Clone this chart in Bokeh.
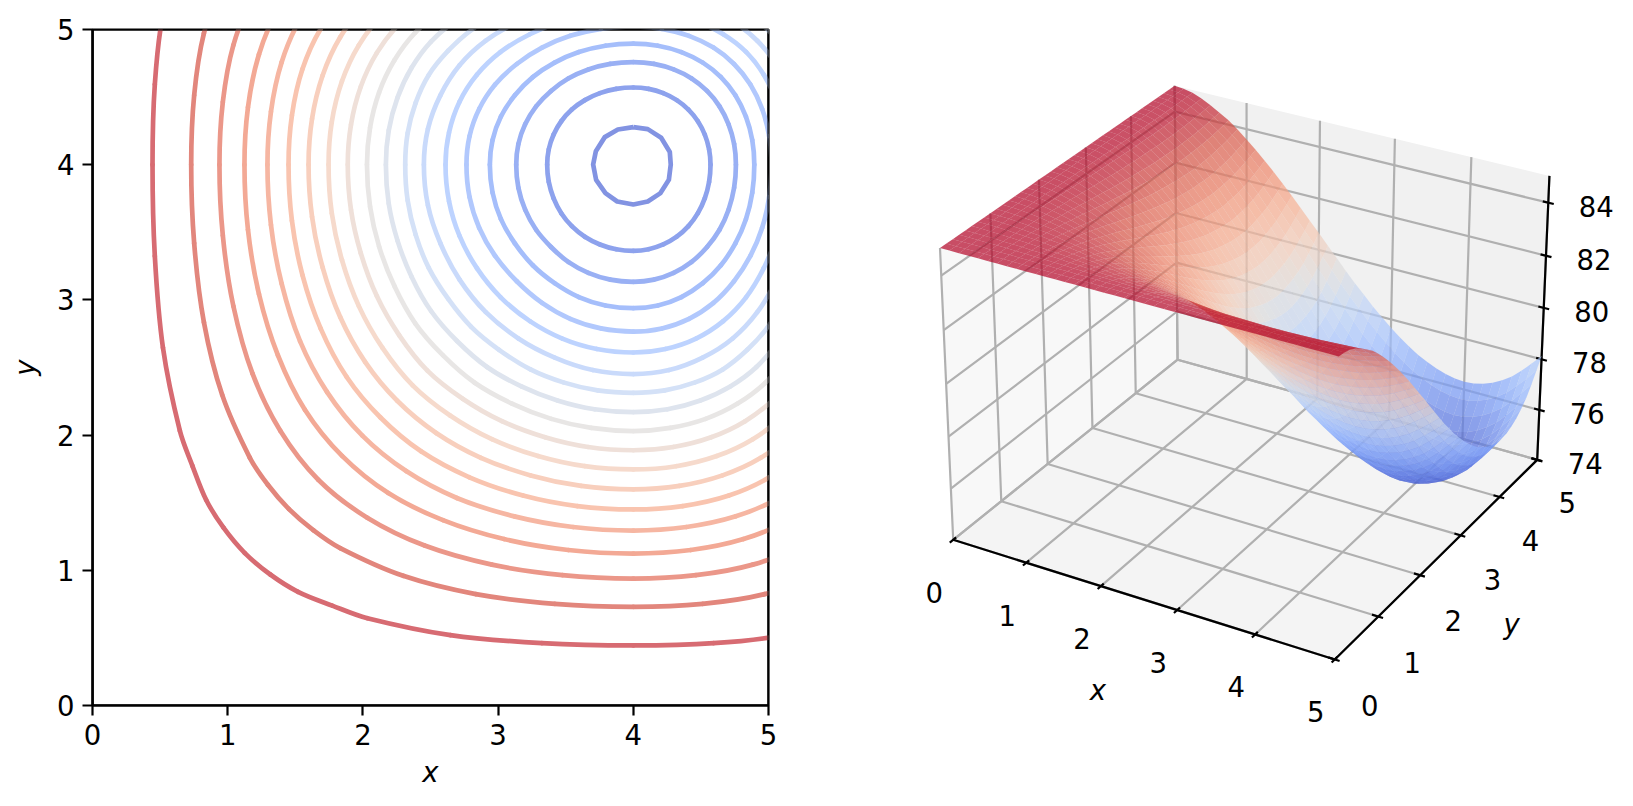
import math
from bokeh.plotting import figure
from bokeh.layouts import row
from bokeh.models import Range1d, FixedTicker, ColumnDataSource, Span
from bokeh.core.properties import value
from bokeh.embed import file_html
from bokeh.resources import INLINE

# ---------- data ----------
grid_x = [0,.125,.25,.375,.5,.625,.75,.875,1,1.125,1.25,1.375,1.5,1.625,1.75,1.875,2,2.125,2.25,2.375,2.5,
          2.625,2.75,2.875,3,3.125,3.25,3.375,3.5,3.625,3.75,3.875,4,4.125,4.25,4.375,4.5,4.625,4.75,4.875,5]
grid_y = list(grid_x)
# the surface is mirrored about x = y, so each row starts on the diagonal
surface_upper = [
[85]*41,
[85,85,85,85,85,85,85,84.99,84.99,84.99,84.99,84.99,84.99,84.99,84.99,84.98,84.98,84.98,84.98,84.98,84.98,84.97,84.97,84.97,84.97,84.97,84.97,84.97,84.97,84.97,84.97,84.97,84.97,84.97,84.97,84.97,84.97,84.97,84.97,84.97],
[85,85,84.99,84.99,84.99,84.98,84.98,84.97,84.97,84.96,84.96,84.95,84.95,84.94,84.93,84.93,84.92,84.92,84.91,84.9,84.9,84.89,84.89,84.88,84.88,84.88,84.87,84.87,84.87,84.87,84.87,84.87,84.87,84.87,84.88,84.88,84.88,84.89,84.9],
[84.99,84.99,84.98,84.97,84.96,84.95,84.94,84.93,84.92,84.9,84.89,84.87,84.86,84.85,84.83,84.82,84.8,84.79,84.78,84.76,84.75,84.74,84.73,84.72,84.71,84.71,84.7,84.7,84.69,84.69,84.69,84.7,84.7,84.71,84.72,84.73,84.74,84.76],
[84.97,84.96,84.95,84.93,84.92,84.9,84.88,84.85,84.83,84.81,84.78,84.76,84.74,84.71,84.69,84.66,84.64,84.62,84.59,84.57,84.55,84.54,84.52,84.51,84.5,84.49,84.48,84.47,84.47,84.47,84.48,84.49,84.5,84.52,84.54,84.56,84.58],
[84.94,84.93,84.9,84.87,84.85,84.82,84.78,84.75,84.72,84.68,84.65,84.61,84.57,84.54,84.5,84.46,84.43,84.4,84.37,84.34,84.32,84.29,84.27,84.25,84.24,84.23,84.22,84.22,84.22,84.23,84.24,84.26,84.28,84.31,84.35,84.38],
[84.9,84.87,84.83,84.79,84.75,84.71,84.66,84.62,84.57,84.52,84.47,84.42,84.37,84.32,84.28,84.23,84.19,84.15,84.11,84.07,84.04,84.01,83.99,83.97,83.96,83.95,83.94,83.95,83.96,83.98,84,84.03,84.07,84.12,84.17],
[84.82,84.78,84.72,84.67,84.61,84.55,84.49,84.43,84.37,84.3,84.24,84.17,84.11,84.04,83.99,83.93,83.87,83.82,83.77,83.73,83.7,83.67,83.64,83.62,83.61,83.6,83.61,83.62,83.64,83.68,83.72,83.77,83.83,83.9],
[84.71,84.65,84.58,84.51,84.44,84.36,84.28,84.2,84.11,84.03,83.95,83.87,83.79,83.71,83.64,83.57,83.51,83.45,83.39,83.35,83.31,83.28,83.25,83.24,83.23,83.23,83.25,83.28,83.32,83.37,83.44,83.52,83.6],
[84.57,84.49,84.4,84.31,84.21,84.12,84.02,83.92,83.81,83.71,83.61,83.52,83.43,83.33,83.25,83.17,83.1,83.03,82.98,82.93,82.89,82.86,82.84,82.83,82.84,82.86,82.9,82.95,83.01,83.1,83.19,83.29],
[84.39,84.28,84.17,84.06,83.94,83.82,83.7,83.58,83.46,83.34,83.22,83.12,83,82.91,82.81,82.72,82.65,82.58,82.52,82.47,82.44,82.41,82.4,82.41,82.44,82.48,82.54,82.62,82.72,82.83,82.95],
[84.16,84.03,83.9,83.76,83.62,83.48,83.34,83.2,83.06,82.92,82.8,82.67,82.55,82.44,82.34,82.25,82.16,82.1,82.05,82,81.98,81.96,81.97,82.01,82.06,82.12,82.21,82.33,82.46,82.6],
[83.88,83.73,83.57,83.41,83.25,83.08,82.92,82.75,82.6,82.45,82.3,82.17,82.04,81.92,81.82,81.72,81.65,81.59,81.54,81.51,81.49,81.5,81.54,81.6,81.68,81.78,81.92,82.07,82.23],
[83.55,83.37,83.19,83,82.82,82.63,82.44,82.26,82.1,81.93,81.78,81.63,81.5,81.38,81.27,81.19,81.11,81.06,81.02,81.01,81.02,81.06,81.13,81.22,81.33,81.49,81.66,81.85],
[83.17,82.96,82.76,82.55,82.34,82.13,81.93,81.74,81.55,81.38,81.22,81.06,80.93,80.81,80.71,80.63,80.57,80.53,80.51,80.53,80.57,80.65,80.75,80.88,81.05,81.25,81.45],
[82.73,82.5,82.27,82.04,81.8,81.58,81.37,81.16,80.97,80.79,80.62,80.47,80.34,80.23,80.14,80.07,80.03,80.01,80.02,80.08,80.16,80.27,80.42,80.61,80.82,81.05],
[82.25,81.99,81.74,81.48,81.23,81.01,80.77,80.56,80.36,80.18,80.01,79.86,79.75,79.65,79.57,79.52,79.5,79.52,79.58,79.67,79.79,79.95,80.17,80.4,80.66],
[81.71,81.43,81.15,80.88,80.63,80.37,80.14,79.93,79.72,79.54,79.38,79.25,79.15,79.06,79.01,78.98,79,79.07,79.16,79.3,79.48,79.71,79.97,80.25],
[81.13,80.83,80.53,80.26,79.98,79.74,79.5,79.28,79.08,78.91,78.77,78.65,78.56,78.5,78.48,78.5,78.57,78.67,78.82,79.01,79.27,79.55,79.85],
[80.49,80.18,79.89,79.59,79.32,79.07,78.83,78.61,78.42,78.28,78.15,78.05,77.99,77.96,77.98,78.06,78.17,78.33,78.54,78.81,79.11,79.44],
[79.84,79.53,79.21,78.92,78.65,78.39,78.17,77.96,77.8,77.67,77.56,77.5,77.47,77.49,77.57,77.69,77.86,78.08,78.38,78.7,79.05],
[79.2,78.86,78.56,78.27,78,77.76,77.54,77.37,77.23,77.12,77.05,77.01,77.04,77.13,77.25,77.44,77.67,77.98,78.32,78.69],
[78.5,78.17,77.87,77.58,77.33,77.1,76.92,76.77,76.65,76.57,76.54,76.57,76.66,76.79,76.99,77.23,77.56,77.93,78.32],
[77.84,77.52,77.21,76.95,76.71,76.52,76.36,76.24,76.16,76.12,76.15,76.25,76.39,76.59,76.85,77.2,77.58,77.99],
[77.18,76.87,76.59,76.34,76.14,75.98,75.85,75.76,75.73,75.75,75.86,76.01,76.22,76.49,76.85,77.25,77.67],
[76.54,76.25,75.99,75.79,75.61,75.48,75.39,75.35,75.38,75.49,75.64,75.86,76.14,76.52,76.94,77.38],
[75.95,75.68,75.47,75.29,75.15,75.06,75.02,75.05,75.16,75.32,75.55,75.84,76.23,76.66,77.12],
[75.4,75.19,75,74.86,74.77,74.73,74.76,74.87,75.03,75.27,75.57,75.97,76.41,76.88],
[74.97,74.78,74.63,74.54,74.5,74.53,74.64,74.81,75.05,75.36,75.77,76.22,76.7],
[74.59,74.44,74.34,74.3,74.33,74.45,74.62,74.86,75.17,75.59,76.05,76.54],
[74.28,74.19,74.14,74.18,74.3,74.47,74.72,75.03,75.46,75.92,76.42],
[74.09,74.04,74.08,74.2,74.37,74.62,74.94,75.37,75.84,76.34],
[74,74.03,74.15,74.33,74.58,74.9,75.33,75.8,76.31],
[74.07,74.19,74.36,74.61,74.93,75.36,75.83,76.34],
[74.31,74.48,74.73,75.04,75.47,75.93,76.43],
[74.65,74.9,75.2,75.62,76.08,76.57],
[75.14,75.44,75.84,76.29,76.77],
[75.73,76.12,76.56,77.02],
[76.5,76.92,77.36],
[77.31,77.74],
[78.13],
]
minimum_x, minimum_y = 4.0, 4.0
# contour rings, read as distances from the minimum: toward larger x/y and toward smaller x/y
ring_toward_high = [
[0,.1134,.2215,.3214,.4077,.4776,.5292,.5606,.5711],
[0,.1528,.2984,.4315,.5455,.6377,.7047,.7458,.759],
[0,.182,.356,.514,.648,.755,.833,.88,.895],
[0,.212,.412,.593,.745,.866,.953,1.005,1.022],
[0,.238,.464,.665,.834,.965,1.06,1.115,1.134],
[0,.265,.513,.735,.917,1.059,1.159,1.217,1.237],
[0,.233,.457,.662,.843,.996,1.12,1.214,1.28,1.319,1.331],
[0,.253,.496,.717,.911,1.073,1.203,1.299,1.367,1.407,1.419],
[0,.274,.535,.772,.977,1.147,1.281,1.381,1.449,1.489,1.502],
[0,.296,.576,.827,1.043,1.22,1.358,1.46,1.528,1.568,1.581],
[0,.317,.617,.884,1.111,1.294,1.434,1.536,1.605,1.643,1.656],
[0,.341,.66,.943,1.179,1.368,1.51,1.61,1.677,1.715,1.728],
[0,.365,.707,1.006,1.251,1.443,1.586,1.684,1.749,1.785,1.797],
[0,.393,.758,1.073,1.327,1.522,1.662,1.757,1.818,1.852,1.863],
[0,.425,.815,1.148,1.409,1.604,1.74,1.83,1.886,1.917,1.927],
[0,.463,.884,1.233,1.501,1.693,1.822,1.905,1.954,1.981,1.989],
[0,.513,.971,1.341,1.61,1.711,1.796,1.862,1.912,1.982,2.022,2.043,2.049],
[0,.594,1.109,1.5,1.642,1.764,1.854,1.926,1.979,2.017,2.046,2.067,2.092,2.104,2.107],
]
ring_toward_low = [
[0,.1265,.247,.3585,.4547,.5327,.59,.6253,.637],
[0,.1704,.3328,.4813,.6085,.719,.8,.85,.866],
[0,.2065,.4029,.582,.7436,.876,.979,1.041,1.061],
[0,.2397,.4663,.675,.862,1.022,1.14,1.211,1.234],
[0,.27,.5249,.765,.981,1.157,1.286,1.363,1.389],
[0,.3,.5811,.85,1.091,1.285,1.427,1.519,1.549],
[0,.2644,.5175,.761,.993,1.199,1.369,1.514,1.61,1.669,1.687],
[0,.287,.5614,.828,1.082,1.304,1.496,1.64,1.744,1.809,1.83],
[0,.3107,.606,.898,1.173,1.409,1.613,1.767,1.88,1.947,1.97],
[0,.3346,.653,.972,1.262,1.523,1.731,1.897,2.016,2.088,2.112],
[0,.3594,.705,1.046,1.355,1.632,1.855,2.03,2.155,2.23,2.254],
[0,.3856,.759,1.127,1.458,1.746,1.984,2.168,2.298,2.376,2.402],
[0,.4138,.816,1.212,1.57,1.87,2.12,2.312,2.447,2.525,2.55],
[0,.4455,.88,1.305,1.68,2.004,2.266,2.465,2.601,2.68,2.706],
[0,.4813,.956,1.408,1.812,2.154,2.429,2.629,2.769,2.85,2.876],
[0,.5243,1.046,1.5435,1.968,2.33,2.611,2.817,2.958,3.036,3.061],
[0,.5806,1.165,1.702,2.168,2.367,2.547,2.703,2.836,3.041,3.176,3.248,3.27],
[0,.6765,1.353,1.967,2.227,2.48,2.685,2.873,3.031,3.159,3.261,3.354,3.479,3.539,3.556],
]
inner_ring_x = [4.0,4.107,4.206,4.27,4.277,4.263,4.201,4.107,4.0,3.881,3.794,3.725,3.703,3.723,3.789,3.886,4.0]
inner_ring_y = [4.278,4.263,4.199,4.094,4.001,3.888,3.79,3.728,3.706,3.728,3.79,3.888,4.001,4.1,4.204,4.26,4.278]
x_ticks = [0,1,2,3,4,5]
y_ticks = [0,1,2,3,4,5]
z_ticks = [74,76,78,80,82,84]
z_low, z_high = 74.0, 85.0

N = len(grid_x)
surface_z = [[0.0]*N for _ in range(N)]
for i, r in enumerate(surface_upper):
    for j, val in enumerate(r, start=i):
        surface_z[i][j] = val
        surface_z[j][i] = val

# ---------- colours ----------
STOPS = [(59,76,192),(89,118,227),(123,159,249),(158,190,255),(192,212,245),(221,220,220),
         (242,203,183),(247,172,142),(238,132,104),(214,82,68),(180,4,38)]
def coolwarm(t, alpha_on_white=1.0):
    t = min(max(t,0),1)*10
    i = min(int(t),9); f = t-i
    c = [STOPS[i][k]+(STOPS[i+1][k]-STOPS[i][k])*f for k in range(3)]
    c = [alpha_on_white*q+(1-alpha_on_white)*255 for q in c]
    return "#%02x%02x%02x" % tuple(int(round(v)) for v in c)

FONT = value("DejaVu Sans")
FS = "27.5px"
LW = 2.2
RING_W = 4.7

# ---------- left panel ----------
p1 = figure(width=820, height=790, output_backend="svg", toolbar_location=None,
            x_range=Range1d(0,5), y_range=Range1d(0,5),
            min_border_left=92, min_border_right=52, min_border_top=29, min_border_bottom=85,
            frame_width=676, frame_height=676)
p1.frame_align = False
p1.grid.visible = False
p1.outline_line_color = "black"; p1.outline_line_width = LW

# each ring is stroked as a smooth curve through its read points
cols = {k: [] for k in "x0 y0 x1 y1 cx0 cy0 cx1 cy1 c".split()}
for k, (hi, lo) in enumerate(zip(ring_toward_high, ring_toward_low), start=1):
    n = len(hi)-1
    pts = []
    for i in range(n+1):
        pts.append((minimum_x+hi[i], minimum_y+hi[n-i]))
    for i in range(1,n+1):
        pts.append((minimum_x+hi[n-i], minimum_y-lo[i]))
    for i in range(1,n+1):
        pts.append((minimum_x-lo[i], minimum_y-lo[n-i]))
    for i in range(1,n):
        pts.append((minimum_x-lo[n-i], minimum_y+hi[i]))
    m = len(pts)
    tang = []
    for i in range(m):
        dx = pts[(i+1)%m][0]-pts[i-1][0]; dy = pts[(i+1)%m][1]-pts[i-1][1]
        d = math.hypot(dx, dy) or 1.0
        tang.append((dx/d, dy/d))
    col = coolwarm(.06+.0494*k, .7)
    for i in range(m):
        a0, a1 = pts[i], pts[(i+1)%m]
        t0, t1 = tang[i], tang[(i+1)%m]
        h = math.hypot(a1[0]-a0[0], a1[1]-a0[1])/3
        for key, val in (("x0",a0[0]),("y0",a0[1]),("x1",a1[0]),("y1",a1[1]),
                         ("cx0",a0[0]+t0[0]*h),("cy0",a0[1]+t0[1]*h),
                         ("cx1",a1[0]-t1[0]*h),("cy1",a1[1]-t1[1]*h),("c",col)):
            cols[key].append(val)
p1.bezier("x0","y0","x1","y1","cx0","cy0","cx1","cy1", source=ColumnDataSource(cols),
          line_color="c", line_width=RING_W, line_cap="round")
p1.line(inner_ring_x, inner_ring_y, line_color=coolwarm(.06,.7), line_width=RING_W, line_join="round")
# frame edges stay on top of the rings
for loc, dim in ((5,"height"),(5,"width"),(0,"height"),(0,"width")):
    p1.add_layout(Span(location=loc, dimension=dim, line_color="black", line_width=LW, level="overlay"))
for ax, lab, tk, so in ((p1.xaxis[0],"x",x_ticks,8),(p1.yaxis[0],"y",y_ticks,13)):
    ax.ticker = FixedTicker(ticks=tk)
    ax.axis_label = lab
    ax.axis_label_text_font = "DejaVu Sans"; ax.axis_label_text_font_style = "italic"
    ax.axis_label_text_font_size = FS; ax.axis_label_text_color = "black"
    ax.major_label_text_font = "DejaVu Sans"; ax.major_label_text_font_size = FS
    ax.major_label_text_color = "black"
    ax.major_tick_in = 0; ax.major_tick_out = 10; ax.minor_tick_in = 0; ax.minor_tick_out = 0
    ax.major_tick_line_width = LW; ax.axis_line_width = LW
    ax.major_tick_line_color = "black"; ax.axis_line_color = "black"
    ax.major_label_standoff = 8; ax.axis_label_standoff = so

# ---------- 3-D projection (camera like a default mplot3d view) ----------
ELEV, AZIM, DIST = math.radians(28.5), math.radians(-60), 10.0
BOX = 1.1905, 1.1905, .8929
w = (math.cos(ELEV)*math.cos(AZIM), math.cos(ELEV)*math.sin(AZIM), math.sin(ELEV))
nu = math.hypot(w[1], w[0])
u = (-w[1]/nu, w[0]/nu, 0.0)
v = (w[1]*u[2]-w[2]*u[1], w[2]*u[0]-w[0]*u[2], w[0]*u[1]-w[1]*u[0])
def project(x, y, z):
    q = ((x/5-.5)*BOX[0], (y/5-.5)*BOX[1], ((z-z_low)/(z_high-z_low)-.5)*BOX[2])
    dot = lambda a: a[0]*q[0]+a[1]*q[1]+a[2]*q[2]
    d = DIST-dot(w)
    return dot(u)/d, dot(v)/d, d

W2, H2 = 805, 790
LEFT2, TOP2 = 820, 0
ax0, ay0 = 952.7, 539.3
cx0 = 1536.7
XA, YA, _ = project(0,0,z_low)
XC, YC, _ = project(5,5,z_low)
S = (cx0-ax0)/(XC-XA)
a = ax0-S*XA
b = ay0+S*YA
p2 = figure(width=W2, height=H2, output_backend="svg", toolbar_location=None,
            x_axis_type=None, y_axis_type=None,
            x_range=Range1d((LEFT2-a)/S, (LEFT2+W2-a)/S),
            y_range=Range1d((b-(TOP2+H2))/S, (b-TOP2)/S),
            min_border_left=0, min_border_right=0, min_border_top=0, min_border_bottom=0)
p2.frame_align = False
p2.outline_line_color = None
p2.grid.visible = False

def poly(pts):
    P = [project(*t) for t in pts]
    return [q[0] for q in P], [q[1] for q in P]

# panes
for pts, col in (([(0,0,z_low),(0,5,z_low),(0,5,z_high),(0,0,z_high)], "#f8f8f8"),
                 ([(0,5,z_low),(5,5,z_low),(5,5,z_high),(0,5,z_high)], "#f1f1f1"),
                 ([(0,0,z_low),(5,0,z_low),(5,5,z_low),(0,5,z_low)], "#f4f4f4")):
    xs, ys = poly(pts)
    p2.patch(xs, ys, fill_color=col, line_color=None)

# grid
gx, gy = [], []
def seg(pts):
    xs, ys = poly(pts); gx.append(xs); gy.append(ys)
for t in x_ticks:
    seg([(t,0,z_low),(t,5,z_low),(t,5,z_high)])
for t in y_ticks:
    seg([(0,t,z_high),(0,t,z_low),(5,t,z_low)])
for t in z_ticks:
    seg([(0,0,t),(0,5,t),(5,5,t)])
p2.multi_line(gx, gy, line_color="#b0b0b0", line_width=LW)

# axis lines and ticks
gx, gy = [], []
seg([(0,0,z_low),(5,0,z_low),(5,5,z_low),(5,5,z_high)])
for t in x_ticks:
    seg([(t,-.07,z_low),(t,.06,z_low)])
for t in y_ticks:
    seg([(4.92,t,z_low),(5.06,t,z_low)])
for t in z_ticks:
    seg([(4.93,5,t),(5.07,5,t)])
p2.multi_line(gx, gy, line_color="black", line_width=LW)

# surface, far quads first
quads = []
for i in range(N-1):
    for j in range(N-1):
        c = [(grid_x[j],grid_y[i],surface_z[i][j]),(grid_x[j+1],grid_y[i],surface_z[i][j+1]),
             (grid_x[j+1],grid_y[i+1],surface_z[i+1][j+1]),(grid_x[j],grid_y[i+1],surface_z[i+1][j])]
        P = [project(*t) for t in c]
        depth = sum(q[2] for q in P)/4
        zm = sum(t[2] for t in c)/4
        quads.append((depth, [q[0] for q in P], [q[1] for q in P], coolwarm((zm-z_low)/(z_high-z_low))))
quads.sort(key=lambda q: -q[0])
p2.patches([q[1] for q in quads], [q[2] for q in quads], fill_color=[q[3] for q in quads],
           fill_alpha=.7, line_color=None)

# texts
def labels(points, texts, dx, dy, style="normal"):
    P = [project(*t) for t in points]
    src = ColumnDataSource(dict(x=[q[0] for q in P], y=[q[1] for q in P], t=texts, dx=dx, dy=dy))
    p2.text("x", "y", text="t", source=src, x_offset="dx", y_offset="dy", text_font=FONT,
            text_font_size=FS, text_color="black", text_align="center", text_baseline="middle",
            text_font_style=style)
labels([(t,0,z_low) for t in x_ticks], [str(t) for t in x_ticks], [-19]*6, [52.5]*6)
labels([(5,t,z_low) for t in y_ticks], [str(t) for t in y_ticks], [35,34,33,32,31,30], [46,45.5,45,44.5,44,43])
labels([(5,5,t) for t in z_ticks], [str(t) for t in z_ticks], [48]*6, [3.5]*6)
labels([(2.5,0,z_low)], ["x"], [-41], [92], "italic")
labels([(5,2.5,z_low)], ["y"], [71], [69], "italic")

open("out.html", "w").write(file_html(row(p1, p2, spacing=0), INLINE))
